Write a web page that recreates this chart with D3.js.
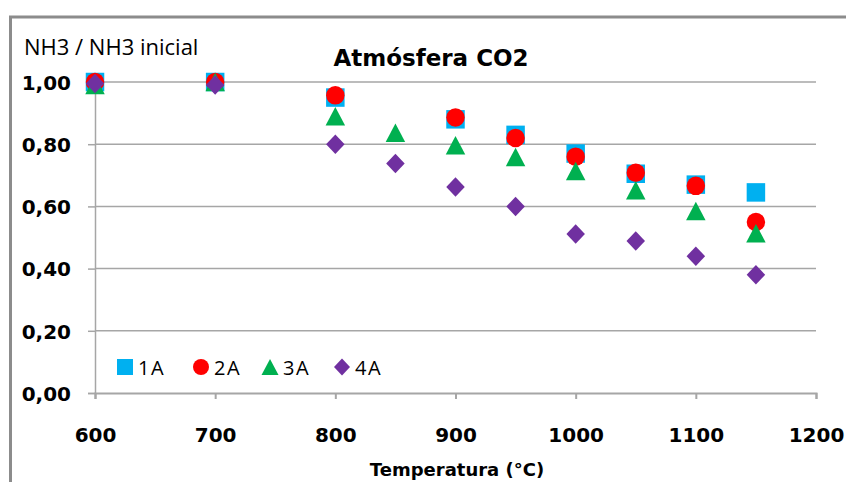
<!DOCTYPE html>
<html>
<head>
<meta charset="utf-8">
<script src="https://cdn.jsdelivr.net/npm/d3@7"></script>
<style>
  body { margin: 0; background: #fff; }
  svg { display: block; }
  .tickLabel { font-family: "DejaVu Sans", sans-serif; font-weight: bold; font-size: 20px; fill: #000; }
  .legendText { font-family: "Open Sans", sans-serif; font-size: 20px; letter-spacing: 1.5px; fill: #000; }
</style>
</head>
<body>
<div id="chartDiv"></div>
<script>
// temperatures (°C) and NH3 / NH3 inicial for each sample
const temps1A = [600, 700, 800, 900, 950, 1000, 1050, 1100, 1150];
const vals1A  = [1.00, 1.00, 0.95, 0.88, 0.83, 0.77, 0.705, 0.67, 0.645];

const temps2A = [600, 700, 800, 900, 950, 1000, 1050, 1100, 1150];
const vals2A  = [1.00, 1.00, 0.957, 0.886, 0.82, 0.76, 0.708, 0.666, 0.55];

const temps3A = [600, 700, 800, 850, 900, 950, 1000, 1050, 1100, 1150];
const vals3A  = [0.99, 1.00, 0.89, 0.837, 0.797, 0.759, 0.714, 0.652, 0.585, 0.514];

const temps4A = [600, 700, 800, 850, 900, 950, 1000, 1050, 1100, 1150];
const vals4A  = [0.995, 0.99, 0.80, 0.738, 0.662, 0.60, 0.511, 0.489, 0.44, 0.38];

const seriesNames = ['1A', '2A', '3A', '4A'];
const xTicks = [600, 700, 800, 900, 1000, 1100, 1200];
const yTicks = [0, 0.2, 0.4, 0.6, 0.8, 1.0];

const width = 846, height = 482;

let svg = d3.select('#chartDiv').append('svg')
    .attr('width', width)
    .attr('height', height);

let x = d3.scaleLinear().domain([600, 1200]).range([95, 816]);
let y = d3.scaleLinear().domain([0, 1]).range([393, 82]);

const fmt = d => d3.format('.2f')(d).replace('.', ',');

// outer frame (only top and left visible in the picture)
svg.append('path')
    .attr('d', `M10.5,${height} V17 H${width}`)
    .attr('fill', 'none')
    .attr('stroke', '#8c8c8c')
    .attr('stroke-width', 3);

// horizontal gridlines
svg.append('g')
    .selectAll('line')
    .data(yTicks.filter(d => d > 0))
    .enter()
    .append('line')
    .attr('x1', x(600)).attr('x2', x(1200))
    .attr('y1', d => y(d)).attr('y2', d => y(d))
    .attr('stroke', '#a6a6a6')
    .attr('stroke-width', 1.5);

// y axis
let yAxis = d3.axisLeft(y).tickValues(yTicks).tickSize(7).tickPadding(17).tickFormat(fmt);
let gy = svg.append('g')
    .attr('transform', `translate(${x(600)},0)`)
    .call(yAxis);
gy.select('.domain').attr('stroke', '#a6a6a6').attr('stroke-width', 1.5);
gy.selectAll('.tick line').attr('stroke', '#a6a6a6').attr('stroke-width', 1.5);
gy.selectAll('.tick text').attr('class', 'tickLabel').attr('dy', '0.36em');

// x axis
let xAxis = d3.axisBottom(x).tickValues(xTicks).tickSize(6).tickPadding(29).tickFormat(d3.format('d'));
let gx = svg.append('g')
    .attr('transform', `translate(0,${y(0)})`)
    .call(xAxis);
gx.select('.domain').attr('stroke', '#a6a6a6').attr('stroke-width', 2);
gx.selectAll('.tick line').attr('stroke', '#a6a6a6').attr('stroke-width', 2);
gx.selectAll('.tick text').attr('class', 'tickLabel');

// marker shapes
function shapePath(kind, s) {
    const h = s / 2;
    if (kind === 'square') return `M${-h},${-h}H${h}V${h}H${-h}Z`;
    if (kind === 'circle') return d3.symbol(d3.symbolCircle, Math.PI * h * h)();
    if (kind === 'triangle') return `M0,${-h}L${h + 0.5},${h}L${-h - 0.5},${h}Z`;
    return `M0,${-h - 0.5}L${h},0L0,${h + 0.5}L${-h},0Z`;
}

const series = [
    {name: '1A', temps: temps1A, vals: vals1A, color: '#00b0f0', shape: 'square'},
    {name: '2A', temps: temps2A, vals: vals2A, color: '#ff0000', shape: 'circle'},
    {name: '3A', temps: temps3A, vals: vals3A, color: '#00b050', shape: 'triangle'},
    {name: '4A', temps: temps4A, vals: vals4A, color: '#7030a0', shape: 'diamond'}
];

series.forEach(s => {
    svg.append('g')
        .selectAll('path')
        .data(s.temps.map((t, i) => ({t: t, v: s.vals[i]})))
        .enter()
        .append('path')
        .attr('transform', d => `translate(${x(d.t)},${y(d.v)})`)
        .attr('d', shapePath(s.shape, 18.5))
        .attr('fill', s.color);
});

// legend
const legendX = [125, 201, 270, 342];
let legend = svg.append('g').selectAll('g')
    .data(series)
    .enter()
    .append('g')
    .attr('transform', (d, i) => `translate(${legendX[i]},${367})`);
legend.append('path')
    .attr('d', d => shapePath(d.shape, 16))
    .attr('fill', d => d.color);
legend.append('text')
    .attr('class', 'legendText')
    .attr('x', 13)
    .attr('y', 8)
    .text(d => d.name);

// title and axis labels
svg.append('text')
    .attr('x', 431).attr('y', 66)
    .attr('text-anchor', 'middle')
    .style('font-family', '"DejaVu Sans", sans-serif')
    .style('font-weight', 'bold')
    .style('font-size', '23px')
    .text('Atmósfera CO2');

svg.append('text')
    .attr('x', 24).attr('y', 55)
    .style('font-family', '"Open Sans", sans-serif')
    .style('font-size', '22px')
    .text('NH3 / NH3 inicial');

svg.append('text')
    .attr('x', 457).attr('y', 476)
    .attr('text-anchor', 'middle')
    .style('font-family', '"DejaVu Sans", sans-serif')
    .style('font-weight', 'bold')
    .style('font-size', '18px')
    .text('Temperatura (°C)');
</script>
</body>
</html>
